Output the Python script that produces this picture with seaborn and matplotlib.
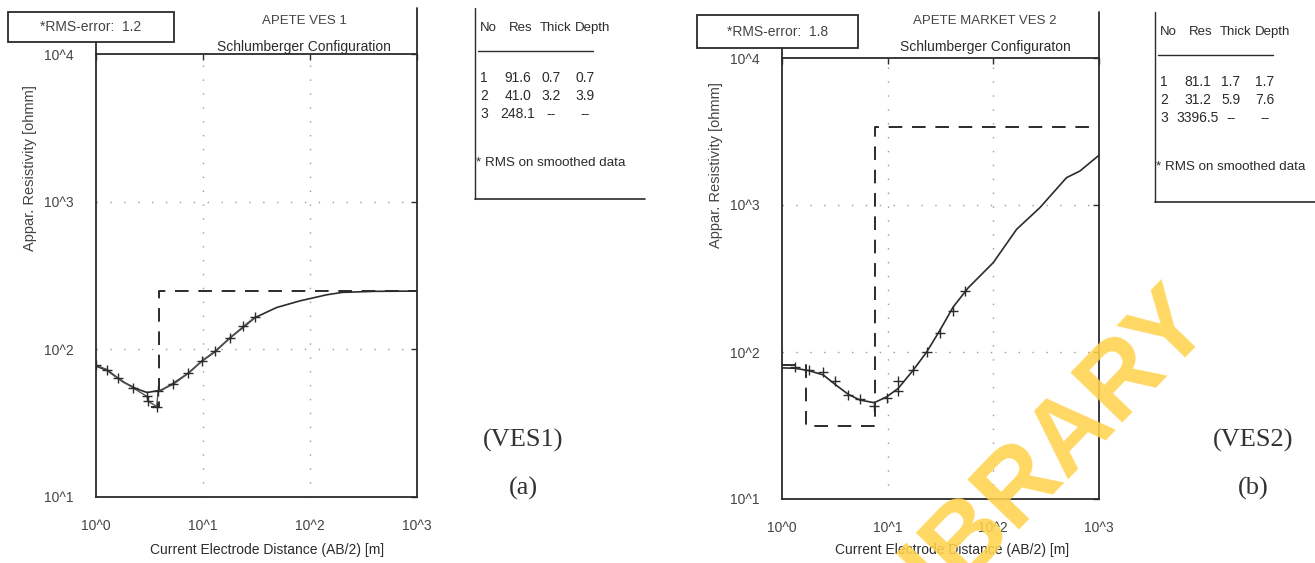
import matplotlib
matplotlib.use("Agg")
import matplotlib.pyplot as plt
from matplotlib.lines import Line2D
from matplotlib.patches import Rectangle
import seaborn as sns

# VES 1 - observed (field) data and fitted curve
obs1_x = [1.0, 1.27, 1.6, 2.2, 3.0, 3.06, 3.7, 3.8, 5.3, 7.3, 9.7, 12.9, 17.9, 23.8, 30.6]
obs1_y = [78, 73, 64, 55, 48, 44.5, 41, 52, 58, 69, 83, 97, 119, 143, 165]
fit1_x = [1.0, 1.27, 1.8, 2.4, 3.0, 4.1, 5.3, 7.3, 9.7, 12.9, 17.9, 23.8, 30.6, 48.8, 80.7, 143, 200, 400, 1000]
fit1_y = [77, 72, 60, 54, 51, 53, 59, 69, 83, 96, 120, 141, 164, 192, 213, 234, 243, 247, 248]

# VES 2
obs2_x = [1.33, 1.81, 2.46, 3.17, 4.24, 5.47, 7.47, 9.8, 12.6, 12.6, 17.5, 23.4, 31.3, 41.8, 53.9]
obs2_y = [79, 76, 73, 63, 51, 48, 43, 49, 54, 63, 76, 100, 135, 190, 262]
fit2_x = [1.0, 1.33, 1.81, 2.46, 3.17, 4.24, 5.47, 7.47, 9.8, 12.6, 17.5, 23.4, 31.3, 41.8, 58, 100, 166, 276, 493, 660, 1000]
fit2_y = [78, 77.5, 74.6, 69.8, 60.3, 51.5, 47.1, 45.2, 49.6, 56.6, 75.5, 100, 141, 203, 274, 406, 683, 960, 1535, 1703, 2180]

# layer models (from the tables)
layer_no = ["1", "2", "3"]
res1 = [91.6, 41.0, 248.1]
thick1 = ["0.7", "3.2", "--"]
depth1 = [0.7, 3.9]
res2 = [81.1, 31.2, 3396.5]
thick2 = ["1.7", "5.9", "--"]
depth2 = [1.7, 7.6]

rms = ["1.2", "1.8"]
titles = ["APETE VES 1", "APETE MARKET VES 2"]
subtitles = ["Schlumberger Configuration", "Schlumberger Configuraton"]
tags = [("(VES1)", "(a)"), ("(VES2)", "(b)")]

xticks = [1, 10, 100, 1000]
xticklabels = ["10^0", "10^1", "10^2", "10^3"]
yticks = [10, 100, 1000, 10000]
yticklabels = ["10^1", "10^2", "10^3", "10^4"]

W, H = 1315, 563
INK = "#2b2b2b"
GREY = "#444444"
SANS = "Liberation Sans"


def fx(px):
    return px / W


def fy(py):
    return 1 - py / H


def model_steps(res, depth, x0, x1):
    xs, ys = [], []
    x = x0
    for i, r in enumerate(res):
        xe = depth[i] if i < len(depth) else x1
        if xe <= x0:
            continue
        xs += [x, xe]
        ys += [r, r]
        x = xe
    return xs, ys


sns.set_style("white")
plt.rcParams["font.family"] = [SANS, "DejaVu Sans"]

fig = plt.figure(figsize=(W / 100, H / 100), dpi=100)
fig.patch.set_facecolor("white")

panels = [
    dict(box=(96, 54, 417, 497), obs=(obs1_x, obs1_y), fit=(fit1_x, fit1_y),
         model=model_steps(res1, depth1, 3.3, 1000), obs_line=True,
         res=res1, thick=thick1, depth=depth1,
         rms_box=(8, 12, 174, 42), title_x=304, ylab_x=30, ylab_y=168,
         xlab_x=267, table=(475, 8, 645, 199), tag_x=523),
    dict(box=(782, 58, 1099, 499), obs=(obs2_x, obs2_y), fit=(fit2_x, fit2_y),
         model=model_steps(res2, depth2, 1.0, 1000), obs_line=False,
         res=res2, thick=thick2, depth=depth2,
         rms_box=(697, 15, 858, 48), title_x=985, ylab_x=716, ylab_y=165,
         xlab_x=952, table=(1155, 12, 1315, 202), tag_x=1253),
]

for k, p in enumerate(panels):
    x0, y0, x1, y1 = p["box"]
    ax = fig.add_axes([fx(x0), fy(y1), fx(x1 - x0), (y1 - y0) / H])
    ax.set_xscale("log")
    ax.set_yscale("log")
    ax.set_xlim(1, 1000)
    ax.set_ylim(10, 10000)

    for v in [10, 100]:
        ax.axvline(v, color="#9a9a9a", lw=1.0, ls=(0, (1, 9)), zorder=0)
    for v in [100, 1000]:
        ax.axhline(v, color="#9a9a9a", lw=1.0, ls=(0, (1, 9)), zorder=0)

    mx, my = p["model"]
    sns.lineplot(x=mx, y=my, ax=ax, sort=False, estimator=None, color=INK,
                 lw=1.4, dashes=False, linestyle=(0, (7, 5)))
    fitx, fity = p["fit"]
    sns.lineplot(x=fitx, y=fity, ax=ax, sort=False, estimator=None, color=INK, lw=1.2)
    ox, oy = p["obs"]
    if p["obs_line"]:
        sns.lineplot(x=ox, y=oy, ax=ax, sort=False, estimator=None, color="#555555", lw=1.0)
    sns.scatterplot(x=ox, y=oy, ax=ax, marker="+", s=45, color=INK, linewidth=1.0, zorder=5)

    ax.set_xticks(xticks)
    ax.set_xticklabels(xticklabels)
    ax.set_yticks(yticks)
    ax.set_yticklabels(yticklabels)
    ax.minorticks_off()
    ax.tick_params(direction="in", length=4, width=1, top=True, right=True,
                   labelsize=10, colors=INK, pad=16)
    for lab in ax.get_xticklabels() + ax.get_yticklabels():
        lab.set_color(GREY)
    for s in ax.spines.values():
        s.set_color(INK)
        s.set_linewidth(1.3)
    ax.set_xlabel("")
    ax.set_ylabel("")

    # extension lines of the original window frame
    fig.add_artist(Line2D([fx(x1), fx(x1)], [fy(y0), fy(8 if k == 0 else 12)], color=INK, lw=1.3))
    fig.add_artist(Line2D([fx(x0), fx(x0)], [fy(y0), fy(p["rms_box"][3])], color=INK, lw=1.3))

    # RMS box
    bx0, by0, bx1, by1 = p["rms_box"]
    fig.add_artist(Rectangle((fx(bx0), fy(by1)), fx(bx1 - bx0), (by1 - by0) / H,
                             fill=False, edgecolor=INK, lw=1.3))
    fig.text(fx((bx0 + bx1) / 2), fy((by0 + by1) / 2), f"*RMS-error:  {rms[k]}",
             ha="center", va="center", fontsize=10, color=GREY)

    # titles
    fig.text(fx(p["title_x"]), fy(21), titles[k], ha="center", va="center", fontsize=9.5, color=GREY)
    fig.text(fx(p["title_x"]), fy(47), subtitles[k], ha="center", va="center", fontsize=10, color=INK)

    # axis labels
    fig.text(fx(p["ylab_x"]), fy(p["ylab_y"]), "Appar. Resistivity [ohmm]", rotation=90,
             ha="center", va="center", fontsize=10.5, color=GREY)
    fig.text(fx(p["xlab_x"]), fy(550), "Current Electrode Distance (AB/2) [m]",
             ha="center", va="center", fontsize=10, color=INK)

    # parameter table
    tx0, ty0, tx1, ty1 = p["table"]
    fig.add_artist(Line2D([fx(tx0), fx(tx0)], [fy(ty0), fy(ty1)], color=INK, lw=1.0))
    fig.add_artist(Line2D([fx(tx0), fx(tx1)], [fy(ty1), fy(ty1)], color=INK, lw=1.2))
    cols = [tx0 + 5, tx0 + 46, tx0 + 81, tx0 + 118]
    heads = ["No", "Res", "Thick", "Depth"]
    for c, h in zip(cols, heads):
        fig.text(fx(c), fy(ty0 + 20), h, ha="left" if h == "No" else "center",
                 va="center", fontsize=9.5, color=INK)
    fig.add_artist(Line2D([fx(tx0 + 3), fx(tx0 + 118)], [fy(ty0 + 43), fy(ty0 + 43)], color=INK, lw=1.0))
    depth_txt = [f"{d:.1f}" for d in p["depth"]] + ["--"]
    res_txt = [f"{r:.1f}" for r in p["res"]]
    for i in range(3):
        yy = fy(ty0 + 70 + i * 18)
        fig.text(fx(cols[0]), yy, layer_no[i], ha="left", va="center", fontsize=10, color=INK)
        fig.text(fx(cols[1] - 3), yy, res_txt[i], ha="center", va="center", fontsize=10, color=INK)
        fig.text(fx(cols[2] - 5), yy, p["thick"][i], ha="center", va="center", fontsize=10, color=INK)
        fig.text(fx(cols[3] - 8), yy, depth_txt[i], ha="center", va="center", fontsize=10, color=INK)
    fig.text(fx(tx0 + 1), fy(ty0 + 155), "* RMS on smoothed data", ha="left", va="center",
             fontsize=9.6, color=INK)

    # panel tags
    fig.text(fx(p["tag_x"]), fy(440), tags[k][0], ha="center", va="center", fontsize=19,
             color="#333333", family="Liberation Serif")
    fig.text(fx(p["tag_x"]), fy(488), tags[k][1], ha="center", va="center", fontsize=19,
             color="#333333", family="Liberation Serif")

# watermark
fig.text(fx(1036), fy(466), "LIBRARY", rotation=46, ha="center", va="center",
         fontsize=74, fontweight="bold", color="#FFD34E", alpha=0.88, zorder=20)

fig.savefig("out.png", dpi=100)
